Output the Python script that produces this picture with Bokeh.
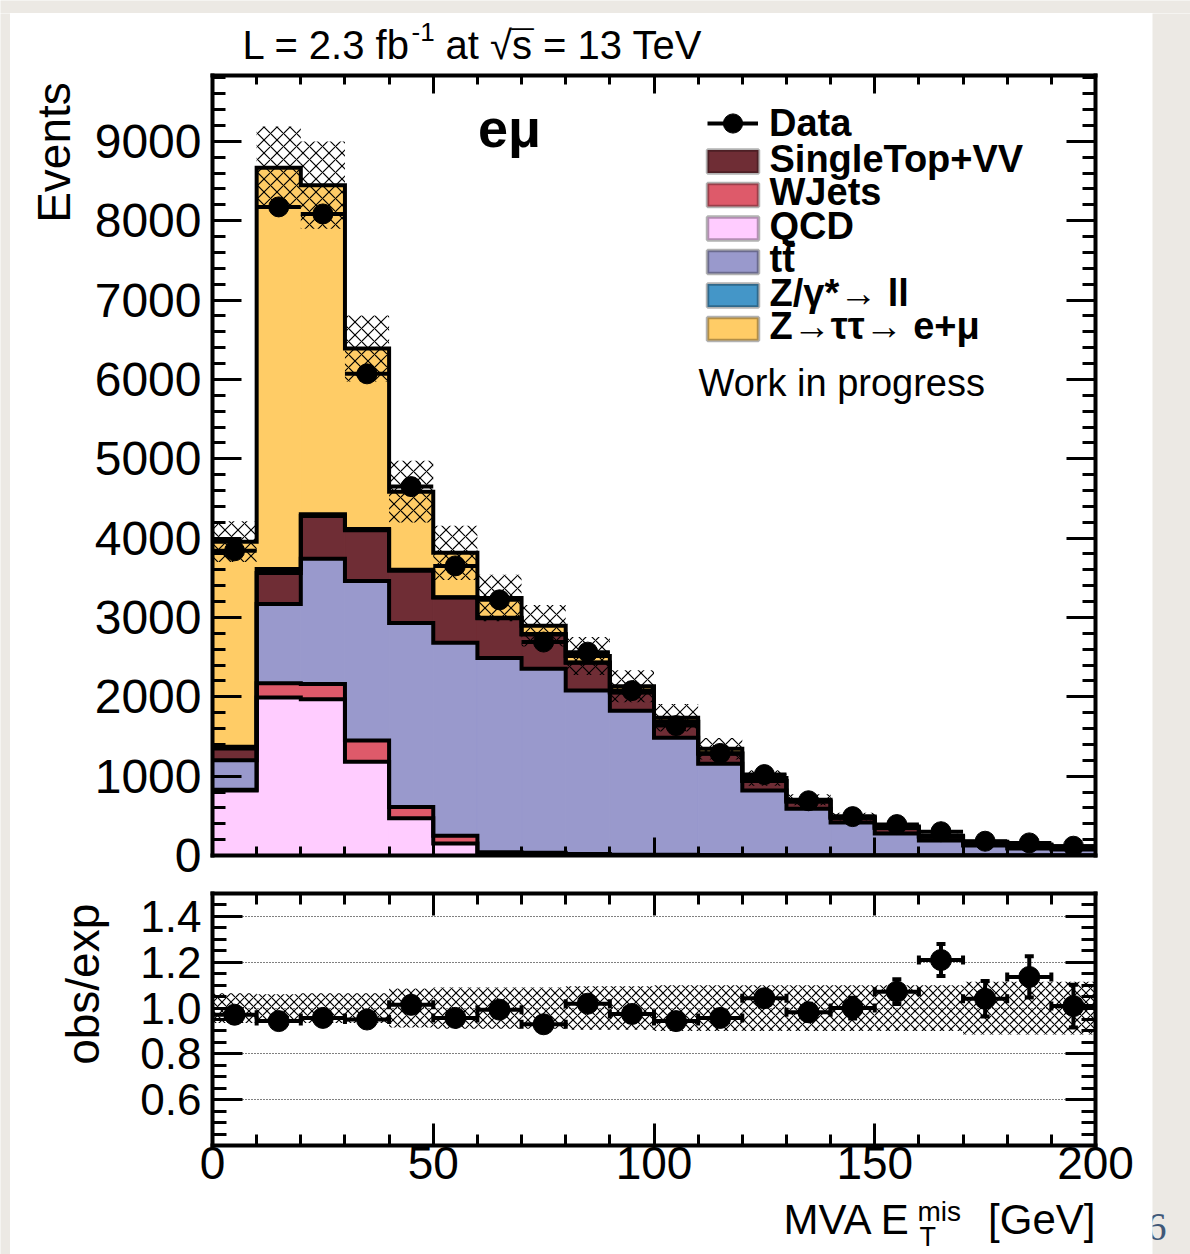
import numpy as np
from bokeh.plotting import figure
from bokeh.models import (ColumnDataSource, Range1d, LinearAxis, FixedTicker, BoxAnnotation,
                          SingleIntervalTicker, Label, Legend, LegendItem, Whisker, TeeHead,
                          PrintfTickFormatter, CustomJSTickFormatter)
from bokeh.layouts import column, row
from bokeh.embed import file_html
from bokeh.resources import INLINE

FONT = "Liberation Sans"
PAGE_BG = "#ece9e4"

# ---------------- data (20 bins of 10 GeV) ----------------
bin_edges = [0, 10, 20, 30, 40, 50, 60, 70, 80, 90, 100,
             110, 120, 130, 140, 150, 160, 170, 180, 190, 200]
qcd   = [820, 1990, 1970, 1180, 470, 150, 20, 20, 10, 5, 5, 0, 0, 0, 0, 0, 0, 0, 0, 0]
wjets = [10, 180, 190, 270, 140, 100, 20, 15, 10, 5, 5, 5, 0, 0, 0, 0, 0, 0, 0, 0]
ttbar = [370, 1000, 1580, 2010, 2320, 2430, 2450, 2320, 2060, 1815, 1475, 1150, 820, 590, 415, 277, 189, 126, 88, 76]
stvv  = [150, 390, 540, 640, 660, 570, 500, 430, 350, 230, 200, 130, 120, 90, 60, 70, 47, 38, 42, 32]
zll   = [20, 50, 20, 15, 10, 5, 5, 5, 3, 2, 2, 1, 1, 1, 0, 0, 0, 0, 0, 0]
ztt   = [2585, 5058, 4148, 2275, 985, 559, 250, 105, 82, 76, 49, 59, 37, 22, 15, 17, 12, 9, 10, 8]
data  = [3840, 8174, 8085, 6070, 4649, 3650, 3222, 2690, 2563, 2078, 1637, 1287, 1020, 690, 490, 390, 300, 180, 159, 117]
syst  = [0.065, 0.06, 0.065, 0.065, 0.085, 0.09, 0.09, 0.09, 0.095, 0.095,
         0.1, 0.1, 0.1, 0.1, 0.1, 0.1, 0.1, 0.115, 0.115, 0.115]

layer_names  = ["QCD", "WJets", "t\u0074\u0304", "SingleTop+VV", "Z/\u03b3*\u2192 ll", "Z\u2192\u03c4\u03c4\u2192 e+\u03bc"]
layer_colors = ["#FFCCFF", "#DE5A6A", "#9999CC", "#6F2D35", "#4496C8", "#FFCC66"]
layer_values = [qcd, wjets, ttbar, stvv, zll, ztt]
legend_order = ["SingleTop+VV", "WJets", "QCD", "t\u0074\u0304", "Z/\u03b3*\u2192 ll", "Z\u2192\u03c4\u03c4\u2192 e+\u03bc"]

lo = np.array(bin_edges[:-1], float)
hi = np.array(bin_edges[1:], float)
xc = 0.5 * (lo + hi)
d = np.array(data, float)
derr = np.sqrt(d)
u = np.array(syst)

# ---------------- helpers ----------------
def mx(px):          # page x pixel -> data x (both panels)
    return (px - 212) / 883 * 200

def my(py):          # page y pixel -> main-panel data y
    return 9830 - (py - 75) * 9830 / 780

BLANK = CustomJSTickFormatter(code="return ''")

def style_axis(ax, maj, mnr, show_labels, size):
    ax.axis_line_width = 4
    ax.axis_line_color = "black"
    ax.axis_line_cap = "square"
    ax.major_tick_line_width = 3
    ax.minor_tick_line_width = 3
    ax.major_tick_line_color = "black"
    ax.minor_tick_line_color = "black"
    ax.major_tick_in = maj
    ax.major_tick_out = 0
    ax.minor_tick_in = mnr
    ax.minor_tick_out = 0
    ax.major_label_text_font = FONT
    ax.major_label_text_color = "black"
    if show_labels:
        ax.major_label_text_font_size = size
        ax.major_label_standoff = 11
    else:
        ax.formatter = BLANK
        ax.major_label_text_font_size = "1px"
        ax.major_label_standoff = 0

def lab(p, x, y, text, size, bold=False, align="left", angle=0.0, font=FONT, color="black"):
    p.add_layout(Label(x=x, y=y, text=text, text_font=font, text_font_size="%dpx" % size,
                       text_font_style="bold" if bold else "normal", text_align=align,
                       text_baseline="middle", angle=angle, text_color=color))

def strip(w, h, bg="white"):
    s = figure(width=w, height=h, output_backend="svg", toolbar_location=None,
               x_range=Range1d(0, w), y_range=Range1d(0, h),
               min_border_left=0, min_border_right=0, min_border_top=0, min_border_bottom=0,
               x_axis_location=None, y_axis_location=None)
    s.grid.visible = False
    s.outline_line_color = None
    s.background_fill_color = bg
    s.border_fill_color = bg
    return s

# ---------------- main panel ----------------
p1 = figure(width=1064, height=812, output_backend="svg", toolbar_location=None,
            x_range=Range1d(0, 200), y_range=Range1d(0, 9830),
            min_border_left=124, min_border_right=57, min_border_top=7, min_border_bottom=25,
            x_axis_location=None, y_axis_location=None)
p1.grid.visible = False
p1.outline_line_color = None
p1.background_fill_color = "white"
p1.border_fill_color = "white"

xt1 = SingleIntervalTicker(interval=50, num_minor_ticks=5)
yt1 = SingleIntervalTicker(interval=1000, num_minor_ticks=5)
for loc in ["below", "above"]:
    ax = LinearAxis(ticker=xt1)
    style_axis(ax, 18, 9, False, None)
    p1.add_layout(ax, loc)
for loc, show in [("left", True), ("right", False)]:
    ax = LinearAxis(ticker=yt1)
    style_axis(ax, 29, 13, show, "48px")
    p1.add_layout(ax, loc)

cum = np.zeros(len(lo))
tops = []
for name, vals, color in zip(layer_names, layer_values, layer_colors):
    bottom = cum.copy()
    cum = cum + np.array(vals, float)
    p1.quad(left=lo, right=hi, bottom=bottom, top=cum, fill_color=color,
            line_color=color, line_width=1)
    tops.append(cum.copy())
total = cum
for t in tops:
    p1.step(x=bin_edges, y=list(t) + [t[-1]], mode="after", line_color="black",
            line_width=4, line_join="miter")

p1.quad(left=lo, right=hi, bottom=total * (1 - u), top=total * (1 + u), fill_alpha=0,
        line_color=None, hatch_pattern="x", hatch_color="black", hatch_scale=13, hatch_weight=1.2)

src1 = ColumnDataSource(dict(xc=xc, lo=lo, hi=hi, y=d, ylo=d - derr, yhi=d + derr))
xr = p1.segment(x0="lo", x1="hi", y0="y", y1="y", source=src1, line_width=4, line_color="black")
p1.segment(x0="xc", x1="xc", y0="ylo", y1="yhi", source=src1, line_width=4, line_color="black")
mr = p1.scatter(x="xc", y="y", source=src1, size=20, marker="circle",
                fill_color="black", line_color="black")

# legend: Data entry via Legend, stacked components as swatch boxes + labels
legA = Legend(items=[LegendItem(label="Data", renderers=[xr, mr])], location=(495, 708),
              glyph_width=51, glyph_height=48, label_standoff=11, padding=0, margin=0, spacing=0,
              border_line_color=None, background_fill_alpha=0,
              label_text_font=FONT, label_text_font_style="bold", label_text_font_size="38px",
              label_text_color="black")
p1.add_layout(legA)
color_of = dict(zip(layer_names, layer_colors))
row_centers = [161, 194.5, 228, 261.5, 295, 328.5]
for name, cy in zip(legend_order, row_centers):
    p1.add_layout(BoxAnnotation(left=mx(707), right=mx(758), top=my(cy - 11.5), bottom=my(cy + 11.5),
                                fill_color=color_of[name], fill_alpha=1.0,
                                line_color="black", line_width=3.5))
    lab(p1, mx(769), my(cy - 3), name, 38, bold=True)

lab(p1, mx(509), my(127), "e\u03bc", 54, bold=True, align="center")
lab(p1, mx(698), my(382), "Work in progress", 38)

# ---------------- ratio panel ----------------
p2 = figure(width=1034, height=320, output_backend="svg", toolbar_location=None,
            x_range=Range1d(0, 200), y_range=Range1d(0.4, 1.5),
            min_border_left=94, min_border_right=57, min_border_top=13, min_border_bottom=55,
            x_axis_location=None, y_axis_location=None)
p2.outline_line_color = None
p2.background_fill_color = "white"
p2.border_fill_color = "white"

xt2 = SingleIntervalTicker(interval=50, num_minor_ticks=5)
yt2 = FixedTicker(ticks=[0.6, 0.8, 1.0, 1.2, 1.4],
                  minor_ticks=[round(0.4 + 0.05 * k, 2) for k in range(23)])
for loc, show in [("below", True), ("above", False)]:
    ax = LinearAxis(ticker=xt2)
    style_axis(ax, 22, 11, show, "46px")
    if show:
        ax.major_label_standoff = 1
    p2.add_layout(ax, loc)
for loc, show in [("left", True), ("right", False)]:
    ax = LinearAxis(ticker=yt2)
    style_axis(ax, 30, 14, show, "44px")
    if show:
        ax.formatter = PrintfTickFormatter(format="%.1f")
    p2.add_layout(ax, loc)
p2.xgrid.visible = False
p2.ygrid.ticker = yt2
p2.ygrid.grid_line_color = "black"
p2.ygrid.grid_line_width = 1
p2.ygrid.grid_line_dash = "1 2"

ratio = d / total
rerr = derr / total
p2.quad(left=lo, right=hi, bottom=1 - u, top=1 + u, fill_alpha=0, line_color=None,
        hatch_pattern="x", hatch_color="black", hatch_scale=9, hatch_weight=1.2)

src2 = ColumnDataSource(dict(xc=xc, lo=lo, hi=hi, r=ratio, rlo=ratio - rerr, rhi=ratio + rerr))
p2.add_layout(Whisker(source=src2, base="r", lower="lo", upper="hi", dimension="width",
                      line_width=4, line_color="black",
                      lower_head=TeeHead(size=9, line_width=4), upper_head=TeeHead(size=9, line_width=4)))
p2.add_layout(Whisker(source=src2, base="xc", lower="rlo", upper="rhi", dimension="height",
                      line_width=4, line_color="black",
                      lower_head=TeeHead(size=9, line_width=4), upper_head=TeeHead(size=9, line_width=4)))
p2.scatter(x="xc", y="r", source=src2, size=21, marker="circle", fill_color="black", line_color="black")

# ---------------- text strips (page px; white area spans x 10..1152, y 13..1254) ----------------
p0 = strip(1142, 55)            # y 13..68
lab(p0, 242 - 10, 68 - 44, "L = 2.3 fb", 40)
lab(p0, 411 - 10, 68 - 31, "-1", 26)
lab(p0, 445 - 10, 68 - 44, "at \u221as = 13 TeV", 40)
lab(p0, 511 - 10, 68 - 44, "\u00af", 40)

L1 = strip(78, 812)             # x 10..88, y 68..880
lab(L1, 53 - 10, 880 - 75, "Events", 46, align="right", angle=np.pi / 2)

L2 = strip(108, 320)            # x 10..118, y 880..1200
lab(L2, 82 - 10, 1200 - 893, "obs/exp", 46, align="right", angle=np.pi / 2)

p3 = strip(1142, 49)            # y 1205..1254
lab(p3, 783 - 10, 1254 - 1224, "MVA E", 42)
lab(p3, 917 - 10, 1254 - 1216, "mis", 28)
lab(p3, 919 - 10, 1254 - 1241, "T", 27)
lab(p3, 1095 - 10, 1254 - 1224, "[GeV]", 42, align="right")

# slide background around the picture
g_top = strip(1190, 13, PAGE_BG)
g_left = strip(10, 1241, PAGE_BG)
g_right = strip(38, 1241, PAGE_BG)
lab(g_right, 1146 - 1152, 1254 - 1226, "6", 40, font="Liberation Serif", color="#3f5878")

content = column(p0, row(L1, p1), row(L2, p2), p3)
layout = column(g_top, row(g_left, content, g_right))
open("out.html", "w").write(file_html(layout, INLINE))
